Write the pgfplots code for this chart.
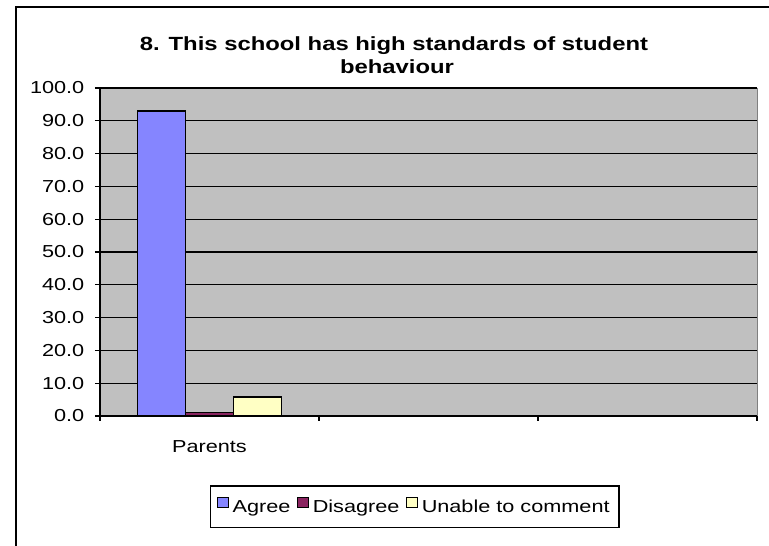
\documentclass[border=0pt]{standalone}
\usepackage{fontspec}
\setmainfont{Liberation Sans}[FakeStretch=1.25]
\usepackage{pgfplots}
\pgfplotsset{compat=1.18}

\definecolor{plotgray}{HTML}{C0C0C0}
\definecolor{agree}{HTML}{8585FF}
\definecolor{disagree}{HTML}{8A2460}
\definecolor{unable}{HTML}{FFFFC4}

\pgfplotsset{
  sq legend/.style={legend image code/.code={
    \draw[##1, draw=black, line width=0.9pt] (0pt,-0.4pt) rectangle (7.8pt,7.4pt);}},
}

\begin{document}
\begin{tikzpicture}[x=0.75pt,y=0.75pt]
\path[use as bounding box, fill=white] (0,0) rectangle (769,546);
\draw[black, line width=1.1pt] (16,-5) -- (16,539) -- (775,539);

\node[anchor=base, font=\bfseries\fontsize{14.3}{16}\selectfont] at (394,495)
  {8. This school has high standards of student};
\node[anchor=base, font=\bfseries\fontsize{14.3}{16}\selectfont] at (397,472)
  {behaviour};

\begin{axis}[
  at={(75pt,97.5pt)}, anchor=south west,
  width=492.75pt, height=246pt, scale only axis,
  ybar=0pt, bar width=0.219,
  xmin=0, xmax=3, ymin=0, ymax=100,
  xtick={0,1,2,3}, xticklabels={,,,},
  extra x ticks={0.5}, extra x tick labels={Parents},
  extra x tick style={major tick length=0pt, xticklabel style={yshift=-15pt}},
  ytick={0,10,...,100},
  yticklabel style={/pgf/number format/fixed, /pgf/number format/fixed zerofill,
    /pgf/number format/precision=1, /pgf/number format/assume math mode=true,
    xshift=-4.5pt},
  tick label style={font=\fontsize{13}{15}\selectfont, black},
  axis x line*=bottom, axis y line*=left,
  axis line style={-, black, line width=0.9pt},
  tick align=outside, major tick length=3.75pt,
  tick style={black, line width=0.9pt},
  axis background/.style={fill=plotgray, draw=gray},
  ymajorgrids, grid style={black, line width=0.9pt},
  legend columns=3,
  legend style={at={(0.479,-0.277)}, anchor=center, draw=black, line width=0.9pt,
    font=\fontsize{13}{15}\selectfont, inner xsep=5pt, inner ysep=8pt,
    /tikz/every odd column/.append style={column sep=1pt},
    /tikz/every even column/.append style={column sep=3pt}},
]
\addplot[fill=agree, draw=black, line width=0.9pt, sq legend] coordinates {(0.5,93.0)};
\addplot[fill=disagree, draw=black, line width=0.9pt, sq legend] coordinates {(0.5,1.0)};
\addplot[fill=unable, draw=black, line width=0.9pt, sq legend] coordinates {(0.5,5.8)};
\legend{Agree, Disagree, Unable to comment}
\end{axis}
\end{tikzpicture}
\end{document}
